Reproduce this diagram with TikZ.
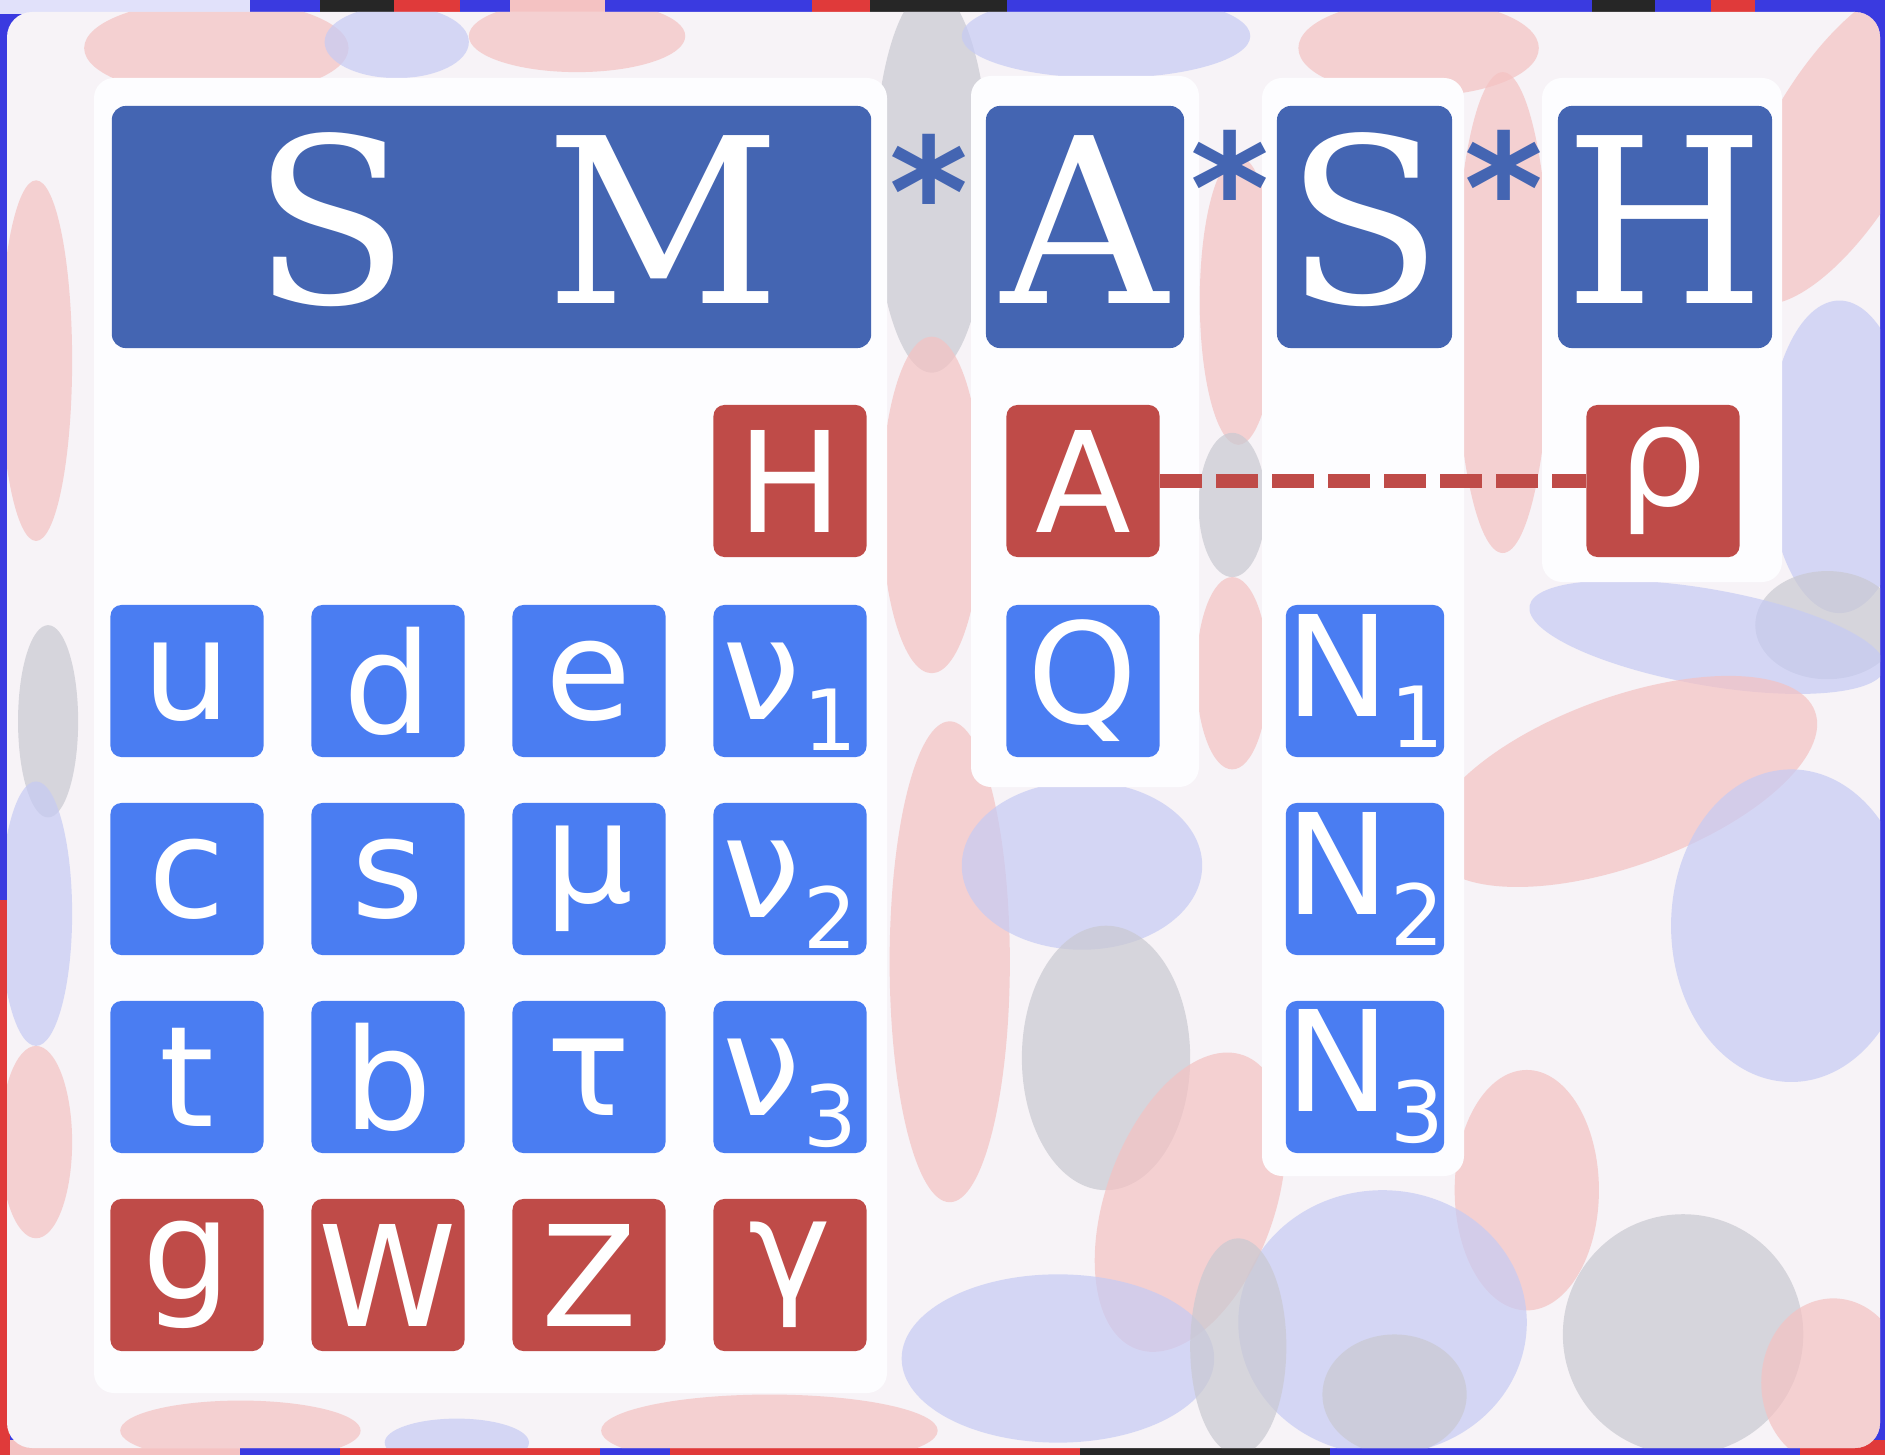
\documentclass[tikz,border=0pt]{standalone}
\usepackage{fontspec}
\newfontfamily\dvsans{DejaVu Sans}
\newfontfamily\dvserif{DejaVu Serif}
\definecolor{bigblue}{HTML}{4465B2}
\definecolor{cellblue}{HTML}{4A7DF2}
\definecolor{cellred}{HTML}{BF4B48}
\definecolor{pk}{HTML}{F4C2C2}
\definecolor{pb}{HTML}{C6CBF4}
\definecolor{pg}{HTML}{C9C9D1}
\definecolor{outerbase}{HTML}{F7F3F7}
\definecolor{panelwhite}{HTML}{FDFDFF}
\definecolor{deepblue}{HTML}{3A3AE0}
\definecolor{deepred}{HTML}{E03A3A}
\newcommand\bigfont{\dvserif\fontsize{65.5pt}{70pt}\selectfont}
\newcommand\labfont{\dvsans\fontsize{39.8pt}{44pt}\selectfont}
\newcommand\subfont{\dvsans\fontsize{24pt}{26pt}\selectfont}
\newcommand\astfont{\dvsans\bfseries\fontsize{43pt}{48pt}\selectfont}
% subscript after a lowercase letter (depth ignored) and after a capital (depth kept)
\newcommand\sbs[1]{\kern0.03cm\raisebox{-0.31cm}[0pt][0pt]{\subfont #1}}
\newcommand\sbsN[1]{\raisebox{-0.31cm}[0pt]{\subfont #1}}
\begin{document}
\begin{tikzpicture}[x=0.01cm,y=-0.01cm,
  panel/.style={fill=panelwhite, rounded corners=0.2cm},
  bigbox/.style={fill=bigblue, rounded corners=0.14cm, text=white, font=\bigfont,
    inner sep=0pt, text height=1.52cm, text depth=0pt, minimum height=2.42cm},
  cell/.style={fill=cellblue, rounded corners=0.11cm, text=white, font=\labfont,
    inner sep=0pt, minimum width=1.53cm, minimum height=1.52cm},
  redcell/.style={cell, fill=cellred},
  astx/.style={text=bigblue, font=\astfont, inner sep=0pt},
  dashlink/.style={draw=cellred, line width=0.13cm, dash pattern=on 0.42cm off 0.14cm},
  blob/.style={opacity=0.7}
]
\useasboundingbox (0,0) rectangle (1885,1455);
% underlying strong colours at the edges
\fill[deepblue] (0,0) rectangle (1885,1455);
\fill[white!85!deepblue] (0,0) rectangle (250,14);
\fill[black!85] (320,0) rectangle (394,14);
\fill[deepred] (394,0) rectangle (460,14);
\fill[pk] (510,0) rectangle (605,14);
\fill[deepred] (812,0) rectangle (870,14);
\fill[black!85] (870,0) rectangle (1007,14);
\fill[black!85] (1592,0) rectangle (1655,14);
\fill[deepred] (1711,0) rectangle (1755,14);
\fill[pk] (0,1440) rectangle (240,1455);
\fill[deepred] (340,1440) rectangle (600,1455);
\fill[deepred] (670,1440) rectangle (1080,1455);
\fill[black!85] (1080,1440) rectangle (1330,1455);
\fill[deepred] (1800,1440) rectangle (1885,1455);
\fill[deepred] (0,900) rectangle (10,1455);
% outer pale panel with mottled pastel pattern
\fill[outerbase, rounded corners=0.25cm] (7,12) rectangle (1880,1448);
\begin{scope}
\clip[rounded corners=0.25cm] (7,12) rectangle (1880,1448);
\begin{scope}[scale=1.2022]
\fill[pk, blob] (180,40) ellipse [x radius=110, y radius=40];
\fill[pk, blob] (480,30) ellipse [x radius=90, y radius=30];
\fill[pb, blob] (330,35) ellipse [x radius=60, y radius=30];
\fill[pg, blob] (775,150) ellipse [x radius=48, y radius=160];
\fill[pk, blob] (775,420) ellipse [x radius=42, y radius=140];
\fill[pb, blob] (920,30) ellipse [x radius=120, y radius=35];
\fill[pk, blob] (1030,250) ellipse [x radius=32, y radius=120];
\fill[pg, blob] (1025,420) ellipse [x radius=28, y radius=60];
\fill[pk, blob] (1025,560) ellipse [x radius=30, y radius=80];
\fill[pk, blob] (1180,40) ellipse [x radius=100, y radius=40];
\fill[pk, blob] (1250,260) ellipse [x radius=40, y radius=200];
\fill[pk, blob, rotate around={-30:(1530,120)}] (1530,120) ellipse [x radius=60, y radius=150];
\fill[pb, blob] (1530,380) ellipse [x radius=60, y radius=130];
\fill[pg, blob] (1520,520) ellipse [x radius=60, y radius=45];
\fill[pb, blob, rotate around={-10:(1420,530)}] (1420,530) ellipse [x radius=150, y radius=40];
\fill[pk, blob, rotate around={20:(1350,650)}] (1350,650) ellipse [x radius=170, y radius=70];
\fill[pb, blob] (1490,770) ellipse [x radius=100, y radius=130];
\fill[pk, blob] (1270,990) ellipse [x radius=60, y radius=100];
\fill[pg, blob] (1400,1110) ellipse [x radius=100, y radius=100];
\fill[pk, blob] (1525,1150) ellipse [x radius=60, y radius=70];
\fill[pb, blob] (1150,1100) ellipse [x radius=120, y radius=110];
\fill[pg, blob] (1160,1160) ellipse [x radius=60, y radius=50];
\fill[pk, blob] (790,800) ellipse [x radius=50, y radius=200];
\fill[pb, blob] (900,720) ellipse [x radius=100, y radius=70];
\fill[pg, blob] (920,880) ellipse [x radius=70, y radius=110];
\fill[pk, blob, rotate around={-20:(990,1000)}] (990,1000) ellipse [x radius=70, y radius=130];
\fill[pb, blob] (880,1130) ellipse [x radius=130, y radius=70];
\fill[pg, blob] (1030,1120) ellipse [x radius=40, y radius=90];
\fill[pk, blob] (640,1190) ellipse [x radius=140, y radius=30];
\fill[pk, blob] (200,1190) ellipse [x radius=100, y radius=25];
\fill[pb, blob] (380,1200) ellipse [x radius=60, y radius=20];
\fill[pk, blob] (30,300) ellipse [x radius=30, y radius=150];
\fill[pg, blob] (40,600) ellipse [x radius=25, y radius=80];
\fill[pb, blob] (30,760) ellipse [x radius=30, y radius=110];
\fill[pk, blob] (30,950) ellipse [x radius=30, y radius=80];
\end{scope}
\end{scope}
% white panels
\fill[panel] (94,78) rectangle (887,1393);
\fill[panel] (971,76) rectangle (1199,787);
\fill[panel] (1262,78) rectangle (1464,1176);
\fill[panel] (1542,78) rectangle (1782,582);
% title boxes
\node[bigbox, minimum width=7.59cm] (SM) at (491.5,227) {\hspace*{0.51cm}S\hspace{1.36cm}M};
\node[bigbox, minimum width=1.98cm] (A) at (1085,227) {A};
\node[bigbox, minimum width=1.75cm] (S) at (1364.5,227) {S};
\node[bigbox, minimum width=2.14cm] (H) at (1665,227) {H};
\node[astx] (st1) at (929,190) {*};
\node[astx] (st2) at (1230,186) {*};
\node[astx] (st3) at (1504,186) {*};
% SM grid
\node[redcell] (Hl) at (790,481) {H};
\node[cell] (u) at (187,681) {u};
\node[cell] (d) at (388,681) {d};
\node[cell] (e) at (589,681) {e};
\node[cell] (nu1) at (790,681) {ν\sbs{1}};
\node[cell] (c) at (187,879) {c};
\node[cell] (s) at (388,879) {s};
\node[cell] (mu) at (589,879) {μ};
\node[cell] (nu2) at (790,879) {ν\sbs{2}};
\node[cell] (t) at (187,1077) {t};
\node[cell] (b) at (388,1077) {b};
\node[cell] (tau) at (589,1077) {τ};
\node[cell] (nu3) at (790,1077) {ν\sbs{3}};
\node[redcell] (g) at (187,1275) {g};
\node[redcell] (W) at (388,1275) {W};
\node[redcell] (Z) at (589,1275) {Z};
\node[redcell] (gam) at (790,1275) {γ};
% A column
\node[redcell] (Ar) at (1083,481) {A};
\node[cell] (Q) at (1083,681) {Q};
% S column
\node[cell] (N1) at (1365,681) {N\sbsN{1}};
\node[cell] (N2) at (1365,879) {N\sbsN{2}};
\node[cell] (N3) at (1365,1077) {N\sbsN{3}};
% H column
\node[redcell] (rho) at (1663,481) {ρ};
\draw[dashlink] (Ar.east) -- (rho.west);
\end{tikzpicture}
\end{document}
